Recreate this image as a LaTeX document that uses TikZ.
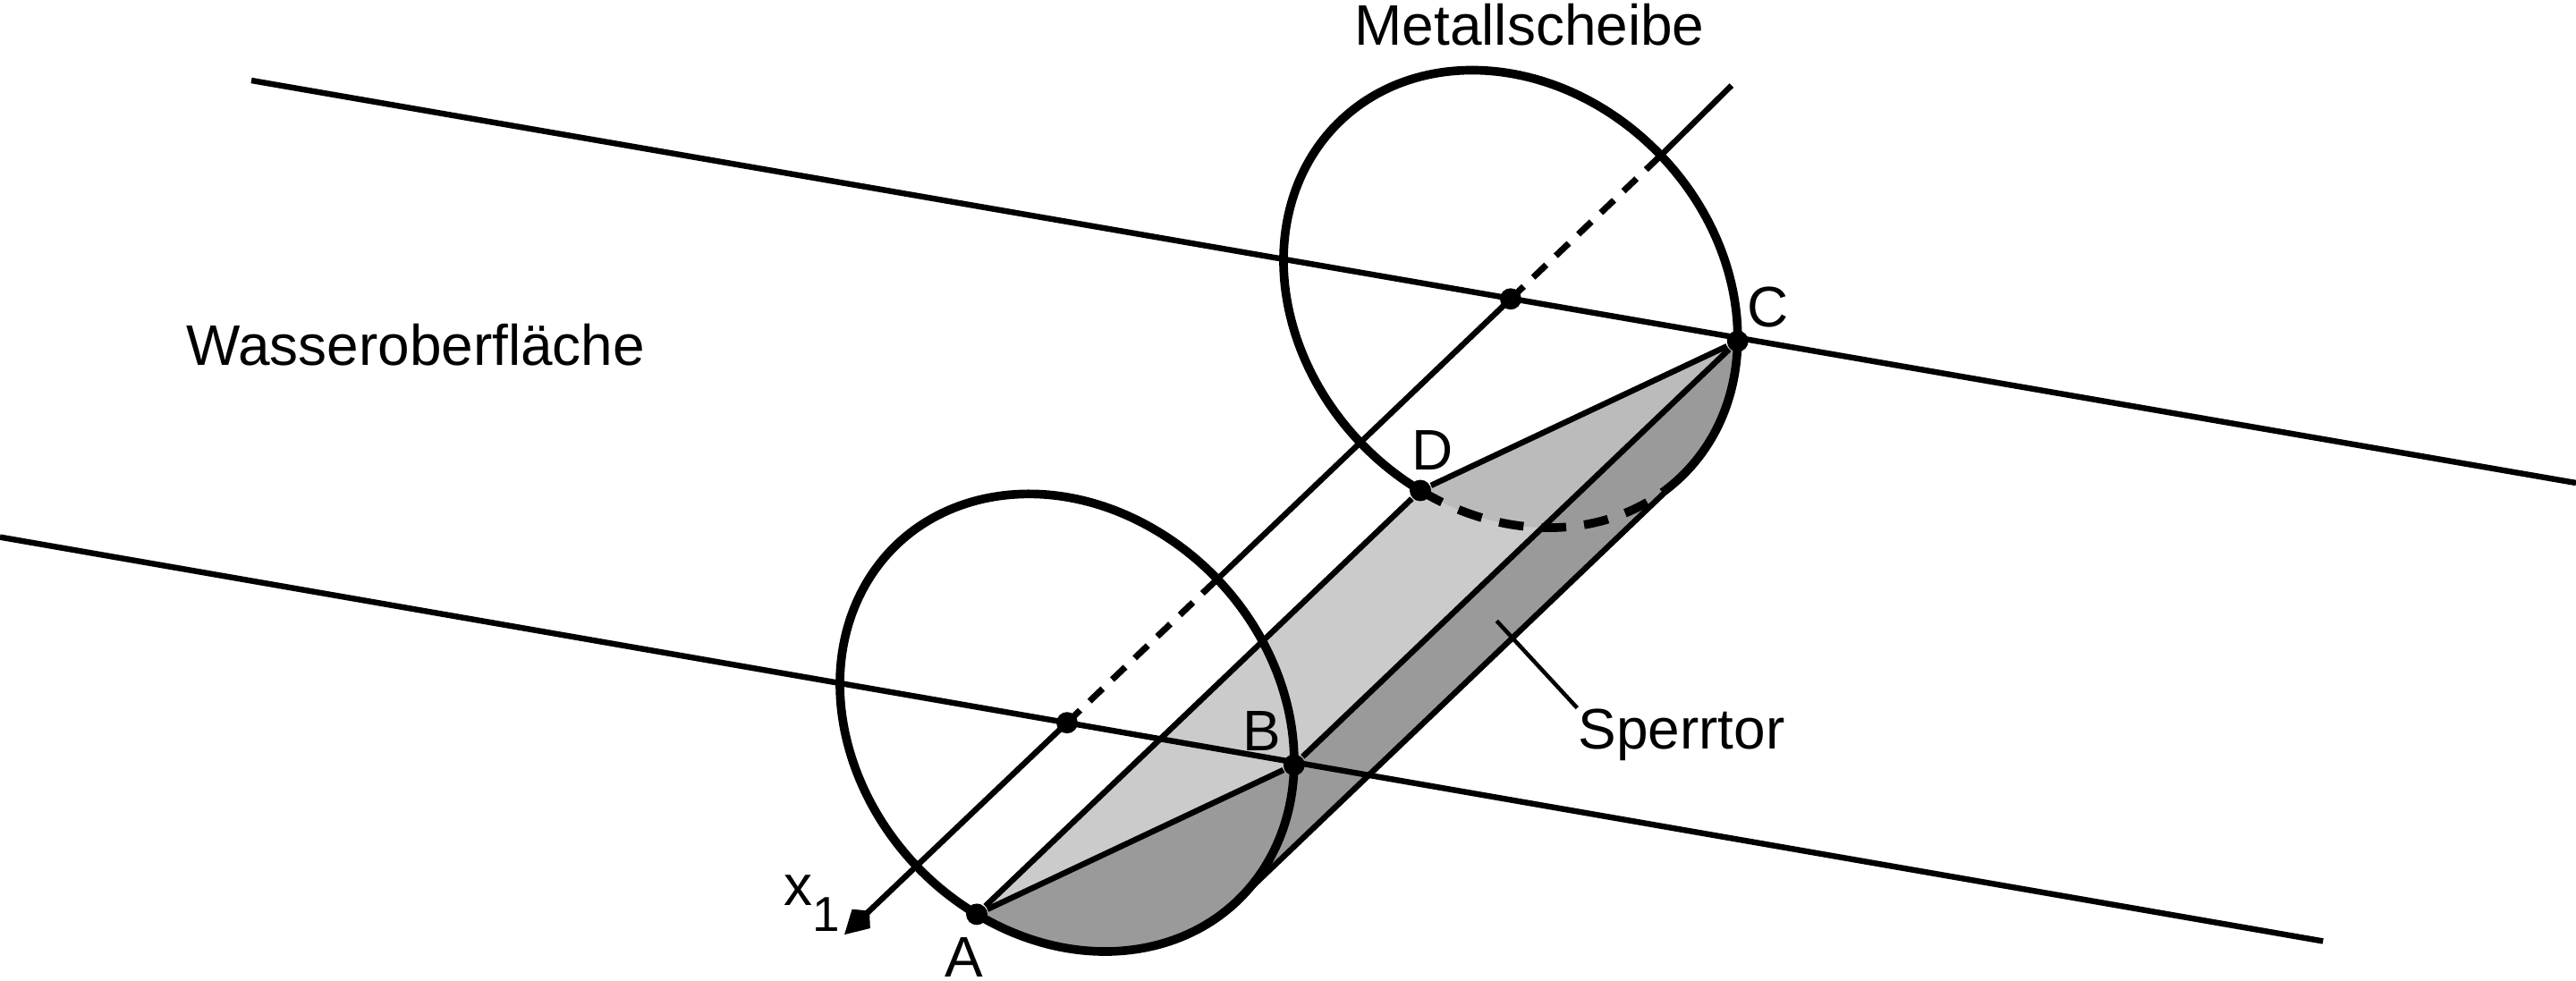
\documentclass[tikz,border=0pt]{standalone}
\usepackage{fontspec}
\setmainfont{Liberation Sans}
\usetikzlibrary{arrows.meta,positioning,backgrounds}
\definecolor{lightplate}{HTML}{CBCBCB}
\definecolor{midplate}{HTML}{BBBBBB}
\definecolor{darkplate}{HTML}{9A9A9A}
\tikzset{
  pnt/.style={ circle, fill=black, inner sep=0pt, minimum size=1.3mm }
}
\tikzset{
  txt/.style={ inner sep=0pt, font=\fontsize{9.9}{12}\selectfont }
}
\tikzset{
  thinline/.style={ line width=1pt }
}
\tikzset{
  thickline/.style={ line width=1.5pt }
}
\tikzset{
  hiddenline/.style={ line width=1.1pt, dash pattern=on 1.1mm off 0.8mm }
}
\tikzset{
  discarc/.style={ x radius=1.5cm, y radius=1.265cm }
}
\tikzset{
  discrot/.style={ shift={(#1)}, rotate=-46.3 }
}
\begin{document}
\begin{tikzpicture}
      \useasboundingbox (0, 0) rectangle (15.68, 5.97);

      \node[pnt] (M1) at (6.495, 1.57) {};
      \node[pnt] (M2) at (9.195, 4.15) {};

      % points on the two discs
      \begin{scope}[discrot=M1]
        \node[pnt] (A) at (-72:1.5cm and 1.265cm) {};
        \node[pnt] (B) at (40.5:1.5cm and 1.265cm) {};
        \coordinate (T1) at (0:1.5cm and 1.265cm);
        \coordinate (E1) at (90:1.5cm and 1.265cm);
      \end{scope}
      \begin{scope}[discrot=M2]
        \node[pnt] (D) at (-72:1.5cm and 1.265cm) {};
        \node[pnt] (C) at (40.5:1.5cm and 1.265cm) {};
        \coordinate (T2) at (0:1.5cm and 1.265cm);
        \coordinate (E2) at (90:1.5cm and 1.265cm);
      \end{scope}

      \coordinate (W1a) at (0, 2.70);
      \coordinate (W1b) at (14.14, 0.24);
      \coordinate (W2a) at (1.53, 5.48);
      \coordinate (W2b) at (15.68, 3.03);
      \coordinate (X0) at (5.14, 0.28);
      \coordinate (X1) at (10.54, 5.45);
      \coordinate (S0) at (9.11, 2.19);

      % the gate
      \begin{scope}[on background layer]
        \fill[lightplate] (A.center) -- (B.center) -- (C.center) -- (D.center) -- cycle;
        \begin{scope}[rotate=-46.3]
          \fill[midplate] (D.center) arc[discarc, start angle=-72, end angle=40.5] -- cycle;
          \fill[darkplate] (A.center) arc[discarc, start angle=-72, end angle=0]
            -- (T2) arc[discarc, start angle=0, end angle=40.5] -- (B.center) -- cycle;
        \end{scope}
      \end{scope}

      % water lines and axis
      \draw[thinline] (W1a) -- (W1b);
      \draw[thinline] (W2a) -- (W2b);
      \draw[thinline, -{Kite[length=2.1mm, width=1.6mm, inset=0.7mm]}] (M1.center) -- (X0);
      \draw[hiddenline] (M1.center) -- (E1);
      \draw[thinline] (E1) -- (M2.center);
      \draw[hiddenline] (M2.center) -- (E2);
      \draw[thinline] (E2) -- (X1);

      \draw[thinline] (A) -- (B);
      \draw[thinline] (B) -- (C);
      \draw[thinline] (C) -- (D);
      \draw[thinline] (D) -- (A);
      \draw[thinline] (T1) -- (T2);

      % disc outlines
      \begin{scope}[rotate=-46.3]
        \draw[thickline] (A.center) arc[discarc, start angle=-72, end angle=288];
        \draw[thickline] (T2) arc[discarc, start angle=0, end angle=288];
        \draw[thickline, dash pattern=on 1.5mm off 1.1mm] (D.center) arc[discarc, start angle=-72, end angle=0];
      \end{scope}

      \node[txt] (metall) at (9.31, 5.82) {Metallscheibe};
      \node[txt] (wasser) at (2.53, 3.87) {Wasseroberfläche};
      \node[txt, anchor=north west] (sperrtor) at (9.60, 1.66) {Sperrtor};
      \draw[line width=0.7pt] (S0) -- (sperrtor.north west);

      \node[txt] (lblA) at (5.87, 0.14) {A};
      \node[txt] (lblB) at (7.68, 1.52) {B};
      \node[txt] (lblC) at (10.76, 4.10) {C};
      \node[txt] (lblD) at (8.72, 3.23) {D};
      \node[txt] (lblX) at (4.94, 0.47) {x\raisebox{-0.45em}{\fontsize{8.5}{10}\selectfont 1}};
    \end{tikzpicture}
\end{document}
